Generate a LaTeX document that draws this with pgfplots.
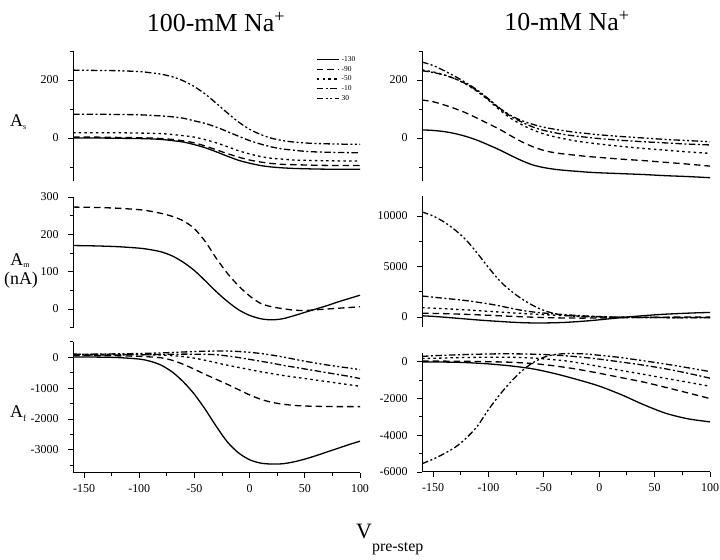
\documentclass[border=0pt]{standalone}
\usepackage{fontspec}
\setmainfont{Liberation Serif}
\usepackage{pgfplots}
\pgfplotsset{compat=1.18}
\newcommand\tickfont{\fontsize{12}{13}\selectfont}
\pgfplotsset{
 base/.style={scale only axis, xmin=-160, xmax=100, axis y line*=left, tick align=outside,
   scaled y ticks=false, scaled x ticks=false,
   major tick length=5bp, minor tick length=3.5bp, tick style={black, line width=0.9bp},
   axis line style={line width=1bp}, ticklabel style={font=\tickfont},
   yticklabel style={xshift=-6bp},
   every axis plot/.append style={black, line width=1.3bp, smooth, no markers}},
 top/.style={base, axis x line=none, xtick=\empty},
 bot/.style={base, axis x line*=bottom, xtick={-150,-100,-50,0,50,100},
   xticklabels={-150,-100,-50,0,50,100}, minor xtick={-125,-75,-25,25,75},
   xticklabel style={yshift=-3bp}},
 s130/.style={solid},
 s90/.style={dash pattern=on 6.5bp off 4bp},
 s50/.style={dash pattern=on 2.5bp off 3.2bp},
 s10/.style={dash pattern=on 6.5bp off 2.5bp on 2bp off 2.5bp},
 s30/.style={dash pattern=on 6.5bp off 2.5bp on 2bp off 2.5bp on 2bp off 2.5bp},
}
\begin{document}
\begin{tikzpicture}[x=1bp,y=1bp]
\path[use as bounding box] (0,0) rectangle (720,560);
% ---------- top left: As 100 mM
\begin{axis}[top, at={(73bp,378.5bp)}, anchor=south west, width=287bp, height=130.5bp,
  ymin=-150, ymax=300, ytick={0,200}, yticklabels={0,200}, minor ytick={-100,100,300},
  legend style={draw=none, fill=none, at={(rel axis cs:0.847,0.975)}, anchor=north west,
    font=\fontsize{7.5}{8}\selectfont, inner sep=0pt, row sep=-0.8bp},
  legend cell align=left,
  legend image code/.code={\draw[#1] (0bp,0bp) -- (22bp,0bp);}]
\addplot[s130] coordinates {(-160,0)(-140,0)(-120,-1)(-100,-2)(-90,-3)(-80,-5)(-70,-9)(-60,-14)(-50,-23)(-40,-34)(-30,-48)(-20,-63)(-10,-77)(0,-87)(10,-95)(20,-100)(30,-103)(40,-105)(50,-106)(60,-107)(80,-108)(100,-108)};
\addplot[s90] coordinates {(-160,3)(-140,3)(-120,2)(-100,1)(-90,0)(-80,-2)(-70,-5)(-60,-10)(-50,-17)(-40,-28)(-30,-41)(-20,-54)(-10,-66)(0,-76)(10,-83)(20,-88)(30,-91)(40,-92)(50,-93)(60,-94)(80,-95)(100,-95)};
\addplot[s50] coordinates {(-160,18)(-140,18)(-120,18)(-100,17)(-80,15)(-70,12)(-60,8)(-50,3)(-40,-6)(-30,-17)(-20,-30)(-10,-44)(0,-55)(10,-64)(20,-70)(30,-73)(40,-76)(50,-77)(60,-78)(80,-79)(100,-79)};
\addplot[s10] coordinates {(-160,82)(-140,82)(-120,81)(-100,80)(-80,76)(-70,73)(-60,68)(-50,59)(-40,50)(-30,37)(-20,22)(-10,6)(0,-9)(10,-21)(20,-31)(30,-38)(40,-42)(50,-46)(60,-48)(80,-50)(100,-51)};
\addplot[s30] coordinates {(-160,234)(-140,233)(-120,232)(-100,229)(-90,225)(-80,220)(-70,211)(-60,197)(-50,177)(-40,151)(-30,119)(-20,86)(-10,55)(0,30)(10,12)(20,-1)(30,-9)(40,-14)(50,-17)(60,-19)(80,-21)(100,-22)};
\legend{-130,-90,-50,-10,30}
\end{axis}
% ---------- top right: As 10 mM
\begin{axis}[top, at={(422bp,378.5bp)}, anchor=south west, width=288bp, height=130.5bp,
  ymin=-150, ymax=300, ytick={0,200}, yticklabels={0,200}, minor ytick={-100,100,300}]
\addplot[s130] coordinates {(-160,28)(-150,26)(-140,22)(-130,15)(-120,5)(-110,-8)(-100,-24)(-90,-41)(-80,-60)(-70,-78)(-60,-93)(-50,-102)(-40,-108)(-30,-112)(-20,-115)(-10,-118)(0,-120)(20,-123)(40,-126)(60,-130)(80,-133)(100,-137)};
\addplot[s90] coordinates {(-160,131)(-150,125)(-140,114)(-130,101)(-120,86)(-110,68)(-100,49)(-90,30)(-80,8)(-70,-13)(-60,-30)(-50,-43)(-40,-51)(-30,-56)(-20,-60)(-10,-64)(0,-67)(20,-73)(40,-78)(60,-84)(80,-90)(100,-97)};
\addplot[s50] coordinates {(-160,235)(-150,228)(-140,218)(-130,204)(-120,185)(-110,160)(-100,130)(-90,97)(-80,68)(-70,46)(-60,28)(-50,14)(-40,4)(-30,-4)(-20,-11)(-10,-16)(0,-21)(20,-29)(40,-36)(60,-42)(80,-48)(100,-53)};
\addplot[s10] coordinates {(-160,232)(-150,226)(-140,217)(-130,204)(-120,186)(-110,162)(-100,133)(-90,102)(-80,75)(-70,55)(-60,38)(-50,26)(-40,18)(-30,11)(-20,6)(-10,2)(0,-2)(20,-8)(40,-13)(60,-17)(80,-21)(100,-24)};
\addplot[s30] coordinates {(-160,262)(-150,250)(-140,232)(-130,212)(-120,190)(-110,165)(-100,135)(-90,103)(-80,78)(-70,60)(-60,47)(-50,37)(-40,30)(-30,24)(-20,19)(-10,15)(0,11)(20,5)(40,0)(60,-5)(80,-9)(100,-13)};
\end{axis}
% ---------- middle left: Am 100 mM
\begin{axis}[top, at={(73bp,232.3bp)}, anchor=south west, width=287bp, height=130.7bp,
  ymin=-50, ymax=300, ytick={0,100,200,300}, yticklabels={0,100,200,300}, minor ytick={-50,50,150,250}]
\addplot[s130] coordinates {(-160,170)(-140,169)(-120,167)(-100,163)(-90,159)(-80,153)(-70,142)(-60,125)(-50,103)(-40,75)(-30,46)(-20,20)(-10,-2)(0,-17)(10,-26)(20,-29)(30,-26)(40,-18)(50,-9)(60,0)(70,9)(80,19)(90,28)(100,37)};
\addplot[s90] coordinates {(-160,273)(-140,272)(-120,270)(-100,266)(-90,262)(-80,256)(-70,248)(-60,236)(-50,215)(-40,180)(-30,135)(-20,95)(-10,62)(0,35)(10,15)(20,6)(30,1)(40,-3)(50,-4)(60,-2)(70,0)(80,2)(90,4)(100,6)};
\end{axis}
% ---------- middle right: Am 10 mM
\begin{axis}[top, at={(422bp,232.9bp)}, anchor=south west, width=288bp, height=131.3bp,
  ymin=-1000, ymax=12000, ytick={0,5000,10000}, yticklabels={0,5000,10000}, minor ytick={2500,7500}]
\addplot[s130] coordinates {(-160,120)(-150,60)(-140,-20)(-130,-110)(-120,-200)(-110,-290)(-100,-370)(-90,-440)(-80,-510)(-70,-560)(-60,-590)(-50,-590)(-40,-570)(-30,-530)(-20,-460)(-10,-380)(0,-280)(10,-170)(20,-60)(30,40)(40,130)(50,210)(60,280)(70,330)(80,380)(90,420)(100,450)};
\addplot[s90] coordinates {(-160,380)(-140,330)(-120,260)(-100,170)(-80,70)(-60,-20)(-40,-80)(-20,-110)(0,-100)(20,-70)(40,-40)(60,-20)(80,-10)(100,0)};
\addplot[s50] coordinates {(-160,920)(-140,820)(-120,700)(-100,560)(-80,420)(-60,290)(-40,180)(-20,90)(0,30)(20,-10)(50,-40)(100,-60)};
\addplot[s10] coordinates {(-160,2080)(-140,1850)(-120,1620)(-100,1300)(-90,1100)(-80,870)(-70,660)(-60,500)(-50,390)(-40,300)(-30,220)(-20,150)(-10,90)(0,40)(20,-20)(40,-50)(60,-60)(80,-70)(100,-70)};
\addplot[s30] coordinates {(-160,10400)(-150,10000)(-140,9400)(-130,8600)(-120,7600)(-110,6300)(-100,4900)(-90,3600)(-80,2600)(-70,1800)(-60,1150)(-50,650)(-40,330)(-30,150)(-20,60)(0,0)(20,-40)(40,-50)(60,-60)(80,-60)(100,-50)};
\end{axis}
% ---------- bottom left: Af 100 mM
\begin{axis}[bot, at={(73bp,87bp)}, anchor=south west, width=287bp, height=131.2bp,
  ymin=-3750, ymax=500, ytick={-3000,-2000,-1000,0}, yticklabels={-3000,-2000,-1000,0}, minor ytick={-3500,-2500,-1500,-500,500}]
\addplot[s130] coordinates {(-160,10)(-140,5)(-120,-10)(-100,-60)(-90,-130)(-80,-260)(-70,-480)(-60,-800)(-50,-1200)(-40,-1700)(-30,-2250)(-20,-2750)(-10,-3100)(0,-3320)(10,-3430)(20,-3460)(30,-3450)(40,-3390)(50,-3300)(60,-3190)(70,-3070)(80,-2950)(90,-2830)(100,-2720)};
\addplot[s90] coordinates {(-160,60)(-140,55)(-120,45)(-100,30)(-90,10)(-80,-20)(-70,-100)(-60,-230)(-50,-390)(-40,-560)(-30,-720)(-20,-880)(-10,-1050)(0,-1220)(10,-1360)(20,-1460)(30,-1520)(40,-1560)(50,-1580)(60,-1590)(80,-1600)(100,-1600)};
\addplot[s50] coordinates {(-160,100)(-140,95)(-120,90)(-100,85)(-80,70)(-70,50)(-60,20)(-50,-30)(-40,-100)(-30,-180)(-20,-260)(-10,-330)(0,-400)(10,-470)(20,-530)(30,-590)(40,-640)(50,-690)(60,-740)(70,-790)(80,-840)(90,-890)(100,-940)};
\addplot[s10] coordinates {(-160,70)(-140,70)(-120,75)(-100,80)(-80,90)(-60,100)(-40,95)(-30,80)(-20,40)(-10,-10)(0,-70)(10,-130)(20,-190)(30,-260)(40,-320)(50,-380)(60,-440)(70,-500)(80,-560)(90,-620)(100,-690)};
\addplot[s30] coordinates {(-160,100)(-140,100)(-120,110)(-100,120)(-80,140)(-60,170)(-40,195)(-20,200)(-10,185)(0,160)(10,120)(20,70)(30,10)(40,-60)(50,-130)(60,-190)(70,-250)(80,-300)(90,-350)(100,-400)};
\end{axis}
% ---------- bottom right: Af 10 mM
\begin{axis}[bot, at={(422bp,88bp)}, anchor=south west, width=288bp, height=119.3bp,
  ymin=-6000, ymax=500, ytick={-6000,-4000,-2000,0}, yticklabels={-6000,-4000,-2000,0}, minor ytick={-5000,-3000,-1000}]
\addplot[s130] coordinates {(-160,0)(-140,-10)(-120,-40)(-100,-110)(-80,-220)(-60,-380)(-40,-640)(-20,-960)(0,-1320)(20,-1790)(40,-2330)(60,-2800)(80,-3100)(100,-3270)};
\addplot[s90] coordinates {(-160,40)(-140,40)(-120,30)(-100,10)(-80,-20)(-60,-90)(-40,-220)(-20,-400)(0,-620)(20,-860)(40,-1100)(60,-1390)(80,-1690)(100,-2000)};
\addplot[s50] coordinates {(-160,180)(-140,210)(-120,240)(-100,250)(-80,250)(-60,210)(-40,110)(-30,50)(-20,-40)(-10,-140)(0,-250)(20,-470)(40,-680)(60,-900)(80,-1110)(100,-1330)};
\addplot[s10] coordinates {(-160,300)(-140,360)(-120,400)(-100,430)(-80,440)(-60,420)(-40,370)(-20,280)(0,150)(20,-10)(40,-180)(60,-380)(80,-620)(100,-890)};
\addplot[s30] coordinates {(-160,-5550)(-150,-5300)(-140,-5000)(-130,-4650)(-120,-4150)(-110,-3500)(-100,-2600)(-90,-1800)(-80,-1100)(-70,-500)(-60,-50)(-50,250)(-40,400)(-30,450)(-20,450)(-10,420)(0,360)(10,300)(20,230)(40,60)(60,-120)(80,-320)(100,-530)};
\end{axis}
% ---------- titles and labels
\node[anchor=base] at (216,528.3) {\fontsize{26}{30}\selectfont 100-mM Na\textsuperscript{+}};
\node[anchor=base] at (567,529) {\fontsize{26}{30}\selectfont 10-mM Na\textsuperscript{+}};
\node[anchor=base west, inner sep=0pt] at (10,433.3) {\fontsize{18}{20}\selectfont A\raisebox{-3bp}{\fontsize{8}{9}\selectfont s}};
\node[anchor=base, inner sep=0pt] at (20,294) {\fontsize{18}{20}\selectfont A\raisebox{-1.5bp}{\fontsize{8}{9}\selectfont m}};
\node[anchor=base, inner sep=0pt] at (21,275.5) {\fontsize{18}{20}\selectfont (nA)};
\node[anchor=base west, inner sep=0pt] at (10,142) {\fontsize{18}{20}\selectfont A\raisebox{-4bp}{\fontsize{9}{10}\selectfont f}};
\node[anchor=base west, inner sep=0pt] at (356,21) {\fontsize{22}{26}\selectfont V\raisebox{-13bp}{\fontsize{16}{18}\selectfont pre-step}};
\end{tikzpicture}
\end{document}
